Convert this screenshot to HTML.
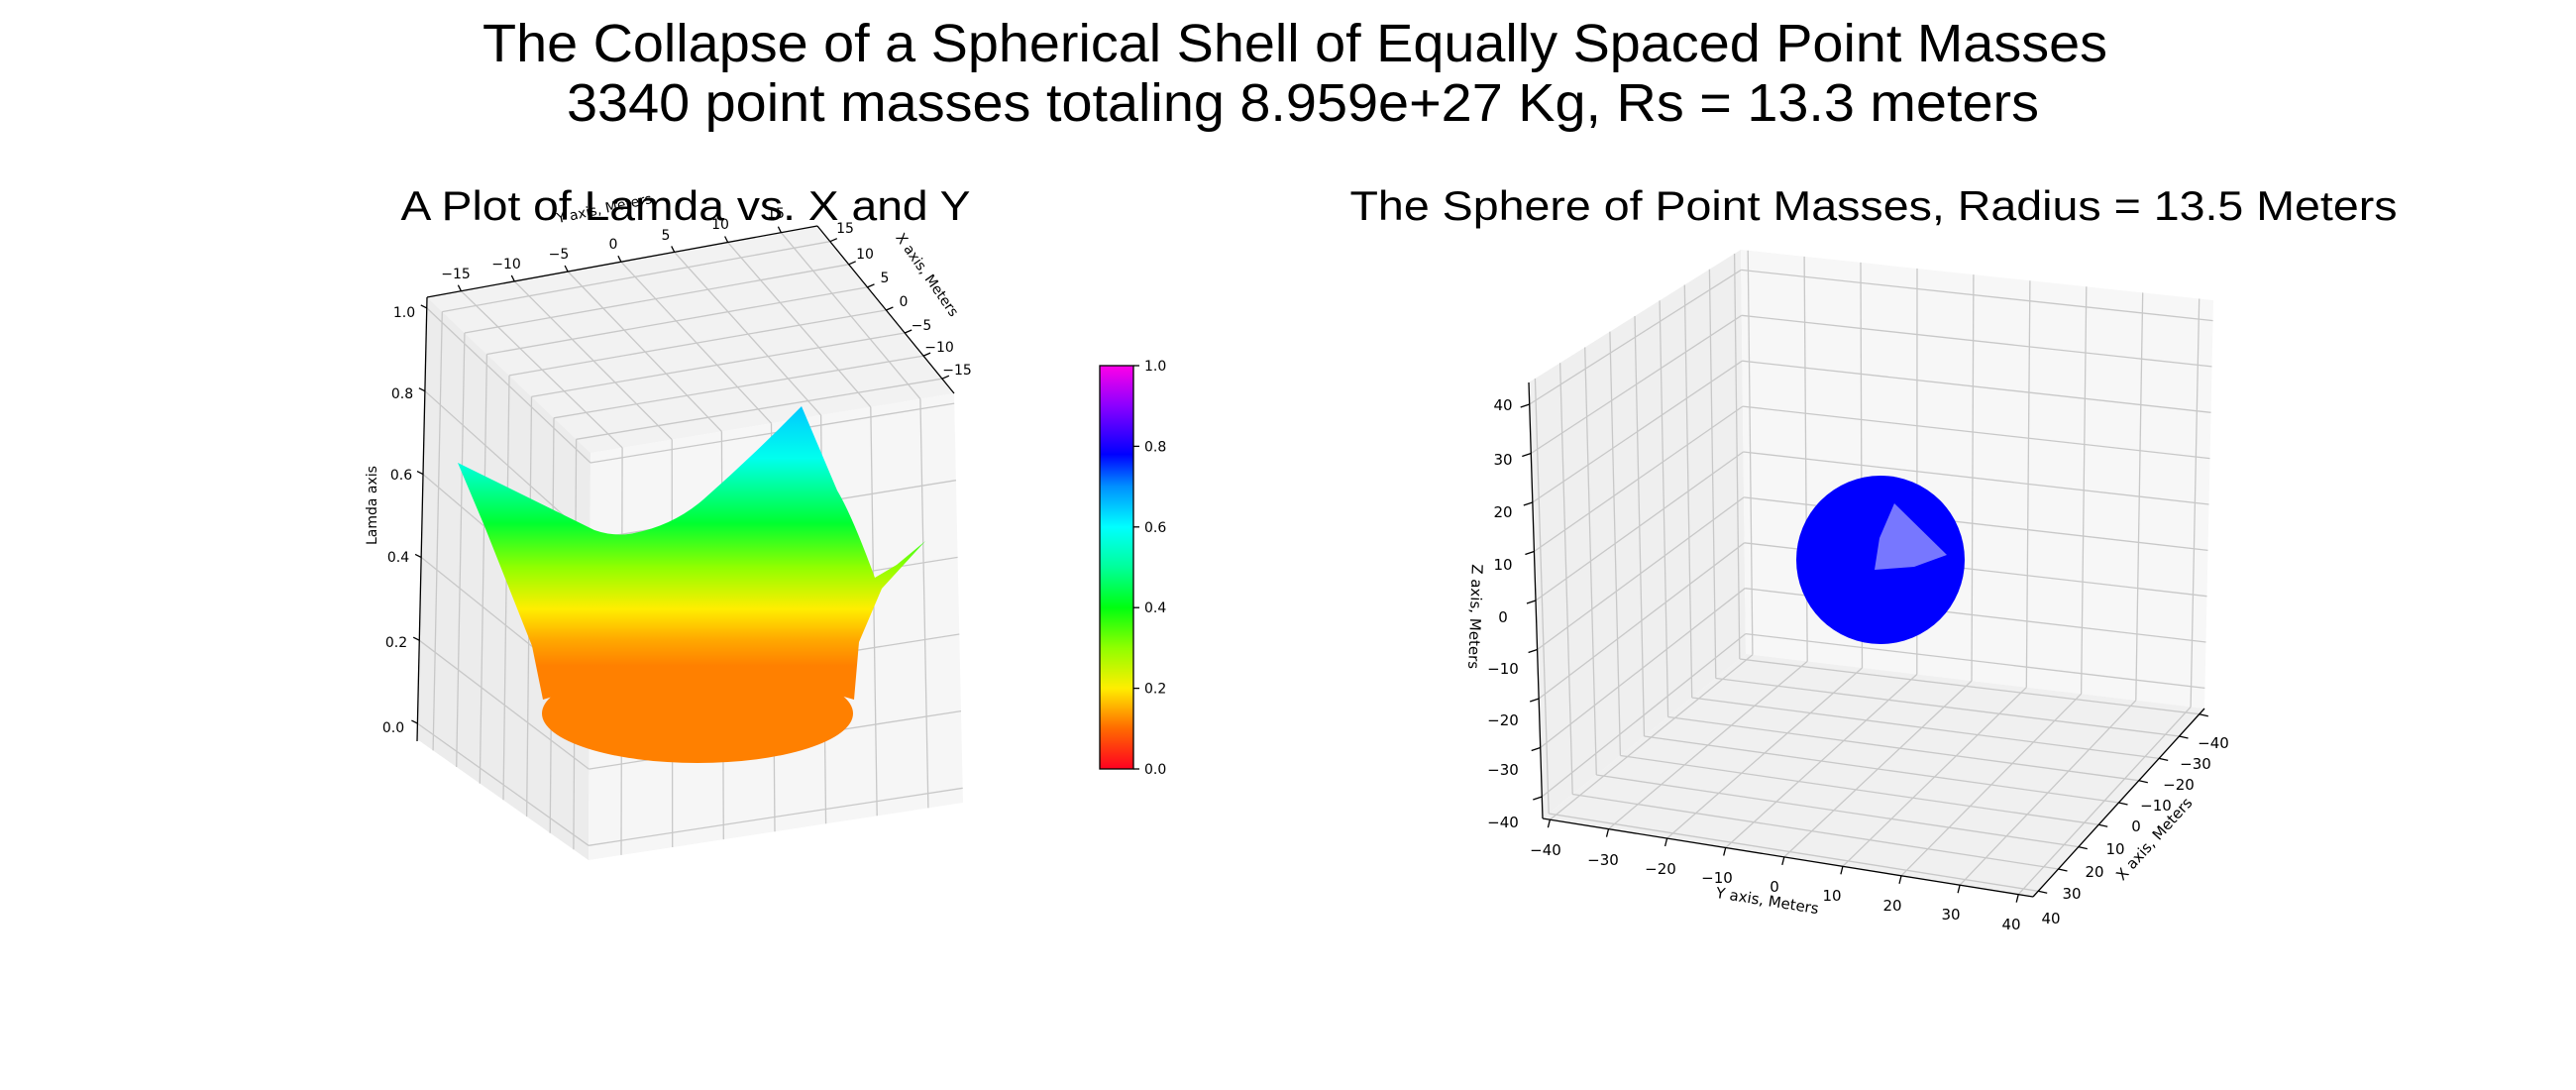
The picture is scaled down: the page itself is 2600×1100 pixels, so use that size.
<!DOCTYPE html>
<html><head><meta charset="utf-8"><style>
html,body{margin:0;padding:0;background:#fff;}
svg{display:block;}
text{font-family:"DejaVu Sans",sans-serif;fill:#000;}
.t{font-family:"Liberation Sans",Arial,sans-serif;}
.tk{font-size:14px;}
.tk2{font-size:15px;}
</style></head><body>
<svg id="s" width="2600" height="1100" viewBox="0 0 2600 1100" xmlns="http://www.w3.org/2000/svg">
<defs>
<linearGradient id="cb" x1="0" y1="1" x2="0" y2="0">
<stop offset="0" stop-color="#ff0020"/>
<stop offset="0.1" stop-color="#ff6a00"/>
<stop offset="0.2" stop-color="#ffee00"/>
<stop offset="0.3" stop-color="#90ff00"/>
<stop offset="0.4" stop-color="#00ff10"/>
<stop offset="0.5" stop-color="#00ff9a"/>
<stop offset="0.6" stop-color="#00ffff"/>
<stop offset="0.7" stop-color="#0090ff"/>
<stop offset="0.78" stop-color="#0000ff"/>
<stop offset="0.9" stop-color="#8a00ff"/>
<stop offset="1" stop-color="#ff00e8"/>
</linearGradient>
<linearGradient id="sf" gradientUnits="userSpaceOnUse" x1="0" y1="410" x2="0" y2="672">
<stop offset="0" stop-color="#00c8ff"/>
<stop offset="0.2" stop-color="#00ffee"/>
<stop offset="0.45" stop-color="#00ff30"/>
<stop offset="0.62" stop-color="#90ff00"/>
<stop offset="0.78" stop-color="#ffee00"/>
<stop offset="0.9" stop-color="#ffa800"/>
<stop offset="1" stop-color="#ff8000"/>
</linearGradient>
</defs>
<g id="g"></g>
<text class="t" x="1307" y="62" font-size="54" text-anchor="middle" textLength="1640" lengthAdjust="spacingAndGlyphs">The Collapse of a Spherical Shell of Equally Spaced Point Masses</text>
<text class="t" x="1315" y="122" font-size="54" text-anchor="middle" textLength="1486" lengthAdjust="spacingAndGlyphs">3340 point masses totaling 8.959e+27 Kg, Rs = 13.3 meters</text>
<text class="t" x="692" y="222" font-size="42" text-anchor="middle" textLength="575" lengthAdjust="spacingAndGlyphs">A Plot of Lamda vs. X and Y</text>
<text class="t" x="1891" y="222" font-size="42" text-anchor="middle" textLength="1057" lengthAdjust="spacingAndGlyphs">The Sphere of Point Masses, Radius = 13.5 Meters</text>
</svg>
<script>
var g=document.getElementById('g');var h='';
function L(p,q,c,w){h+='<line x1="'+p[0].toFixed(1)+'" y1="'+p[1].toFixed(1)+'" x2="'+q[0].toFixed(1)+'" y2="'+q[1].toFixed(1)+'" stroke="'+c+'" stroke-width="'+w+'"/>';}
function P(pts,c){h+='<polygon points="'+pts.map(function(p){return p.join(',')}).join(' ')+'" fill="'+c+'"/>';}
function lerp(a,b,t){return [a[0]+(b[0]-a[0])*t,a[1]+(b[1]-a[1])*t];}
function T(x,y,s,cls,extra){h+='<text x="'+x+'" y="'+y+'" class="'+cls+'" text-anchor="middle" '+(extra||'')+'>'+s+'</text>';}
// ---- left axes ----
var A=[431,300],Pp=[825,228],E=[963,397],B=[596,457],C=[594,868],D=[421,746],F=[972,810];
P([A,Pp,E,B],'#f2f2f2');P([A,B,C,D],'#ececec');P([B,E,F,C],'#f6f6f6');
var gc='#c8c8c8';
var xs=[15,10,5,0,-5,-10,-15];
xs.forEach(function(x){var f=(18.4-x)/36.6;
 L(lerp(A,B,f),lerp(D,C,f),gc,1.3);
 L(lerp(A,B,f),lerp(Pp,E,f),gc,1.3);
});
xs.forEach(function(y){var f=(y+18.2)/36.6;
 L(lerp(B,E,f),lerp(C,F,f),gc,1.3);
 L(lerp(A,Pp,f),lerp(B,E,f),gc,1.3);
});
[0,0.2,0.4,0.6,0.8,1.0].forEach(function(z){var v=(1.026-z)/1.064;
 var a=lerp(A,D,v),b=lerp(B,C,v),c=lerp(E,F,v);L(a,b,gc,1.3);L(b,c,gc,1.3);});
L(A,[421,748],'#000',1.3);L(A,Pp,'#000',1.3);L(Pp,E,'#000',1.3);
[0,0.2,0.4,0.6,0.8,1.0].forEach(function(z){var v=(1.026-z)/1.064;var a=lerp(A,[421,746],v);L(a,[a[0]-6,a[1]-3],'#000',1.3);});
xs.forEach(function(y){var f=(y+18.2)/36.6;var a=lerp(A,Pp,f);L(a,[a[0]-3,a[1]-6],'#000',1.3);});
xs.forEach(function(x){var f=(18.4-x)/36.6;var a=lerp(Pp,E,f);L(a,[a[0]+7,a[1]-3],'#000',1.3);});
// surface
h+='<ellipse cx="704" cy="720" rx="157" ry="50" fill="#ff8000"/>';
h+='<path d="M462,467 L489,531 L537,652 L548,706 Q600,690 704,675 Q810,690 862,706 L867,648 L890,594 L934,546 L905,570 L883,583 Q860,520 845,495 L809,410 Q760,460 710,504 Q680,530 640,538 Q620,542 600,535 Z" fill="url(#sf)"/>';
// ticks left
var yl=[[-15,460,281],[-10,511,271],[-5,564,261],[0,619,251],[5,672,242],[10,727,231],[15,783,220]];
yl.forEach(function(t){T(t[1],t[2],(t[0]<0?'\u2212'+(-t[0]):t[0]),'tk');});
var xl=[[15,853,235],[10,873,261],[5,893,285],[0,912,309],[-5,930,333],[-10,948,355],[-15,966,378]];
xl.forEach(function(t){T(t[1],t[2],(t[0]<0?'\u2212'+(-t[0]):t[0]),'tk');});
var zl=[['1.0',408,320],['0.8',406,402],['0.6',405,484],['0.4',402,567],['0.2',400,653],['0.0',397,739]];
zl.forEach(function(t){T(t[1],t[2],t[0],'tk');});
h+='<text class="tk" x="380" y="510" text-anchor="middle" transform="rotate(-90 380 510)">Lamda axis</text>';
h+='<text class="tk" x="611" y="215" text-anchor="middle" transform="rotate(-12 611 215)">Y axis, Meters</text>';
h+='<text class="tk" x="932" y="280" text-anchor="middle" transform="rotate(55 932 280)">X axis, Meters</text>';
// colorbar
h+='<rect x="1110" y="369" width="34" height="407" fill="url(#cb)" stroke="#000" stroke-width="1.3"/>';
for(var i=0;i<=5;i++){var y=776-i*407/5;L([1144,y],[1150,y],'#000',1.3);h+='<text class="tk" x="1155" y="'+(y+5)+'">'+(i*0.2).toFixed(1)+'</text>';}
// ---- right axes ----
var Lt=[1543,386],Lb=[1557,826],Bt=[1757,252],Bb=[1762,660],Rt=[2234,303],Rb=[2225,715],Fr=[2052,905];
P([Lt,Bt,Bb,Lb],'#efefef');P([Bt,Rt,Rb,Bb],'#f7f7f7');P([Lb,Bb,Rb,Fr],'#f0f0f0');
for(var k=0;k<=8;k++){var f=0.05+0.9*k/8;
 L(lerp(Lt,Lb,f),lerp(Bt,Bb,f),gc,1.3);L(lerp(Bt,Bb,f),lerp(Rt,Rb,f),gc,1.3);
 var fy=0.015+0.955*k/8;
 L(lerp(Lb,Fr,fy),lerp(Bb,Rb,fy),gc,1.3);L(lerp(Bt,Rt,fy),lerp(Bb,Rb,fy),gc,1.3);
 var fx=0.03+0.94*k/8;
 L(lerp(Fr,Rb,fx),lerp(Lb,Bb,fx),gc,1.3);L(lerp(Lt,Bt,1-fx),lerp(Lb,Bb,1-fx),gc,1.3);
}
L(Lt,Lb,'#000',1.3);L(Lb,Fr,'#000',1.3);L(Fr,Rb,'#000',1.3);
var zr=['40','30','20','10','0','\u221210','\u221220','\u221230','\u221240'];
var zy=[408,463,516,569,622,674,726,776,829];
for(var k=0;k<=8;k++){var f=0.05+0.9*k/8;var a=lerp(Lt,Lb,f);L(a,[a[0]-9,a[1]+3],'#000',1.3);
 T(1517,zy[k]+6,zr[k],'tk2');}
var yr=['\u221240','\u221230','\u221220','\u221210','0','10','20','30','40'];
var ypos=[[190,1340],[290,1360],[390,1380],[490,1398],[590,1418],[690,1437],[795,1457],[897,1477],[1003,1497]];
for(var k=0;k<=8;k++){var fy=0.015+0.955*k/8;var a=lerp(Lb,Fr,fy);L(a,[a[0]-2,a[1]+8],'#000',1.3);
 T((1450+ypos[k][0]/1.729).toFixed(0),(220+ypos[k][1]/2.103+6).toFixed(0),yr[k],'tk2');}
var xr=['40','30','20','10','0','\u221210','\u221220','\u221230','\u221240'];
var xpos=[[1072,1485],[1108,1433],[1148,1385],[1185,1338],[1220,1290],[1255,1245],[1295,1200],[1325,1157],[1355,1112]];
for(var k=0;k<=8;k++){var fx=0.03+0.94*k/8;var a=lerp(Fr,Rb,fx);L(a,[a[0]+9,a[1]+2],'#000',1.3);
 T((1450+xpos[k][0]/1.729).toFixed(0),(220+xpos[k][1]/2.103+6).toFixed(0),xr[k],'tk2');}
h+='<text class="tk2" x="1484" y="622" text-anchor="middle" transform="rotate(92 1484 622)">Z axis, Meters</text>';
h+='<text class="tk2" x="1783" y="914" text-anchor="middle" transform="rotate(9 1783 914)">Y axis, Meters</text>';
h+='<text class="tk2" x="2178" y="850" text-anchor="middle" transform="rotate(-48 2178 850)">X axis, Meters</text>';
// sphere
h+='<circle cx="1898" cy="565" r="85" fill="#0000ff"/>';
h+='<polygon points="1912,508 1965,560 1932,572 1892,575 1897,543" fill="#8c8cff" opacity="0.85"/>';
g.innerHTML=h;
</script>
</body></html>
